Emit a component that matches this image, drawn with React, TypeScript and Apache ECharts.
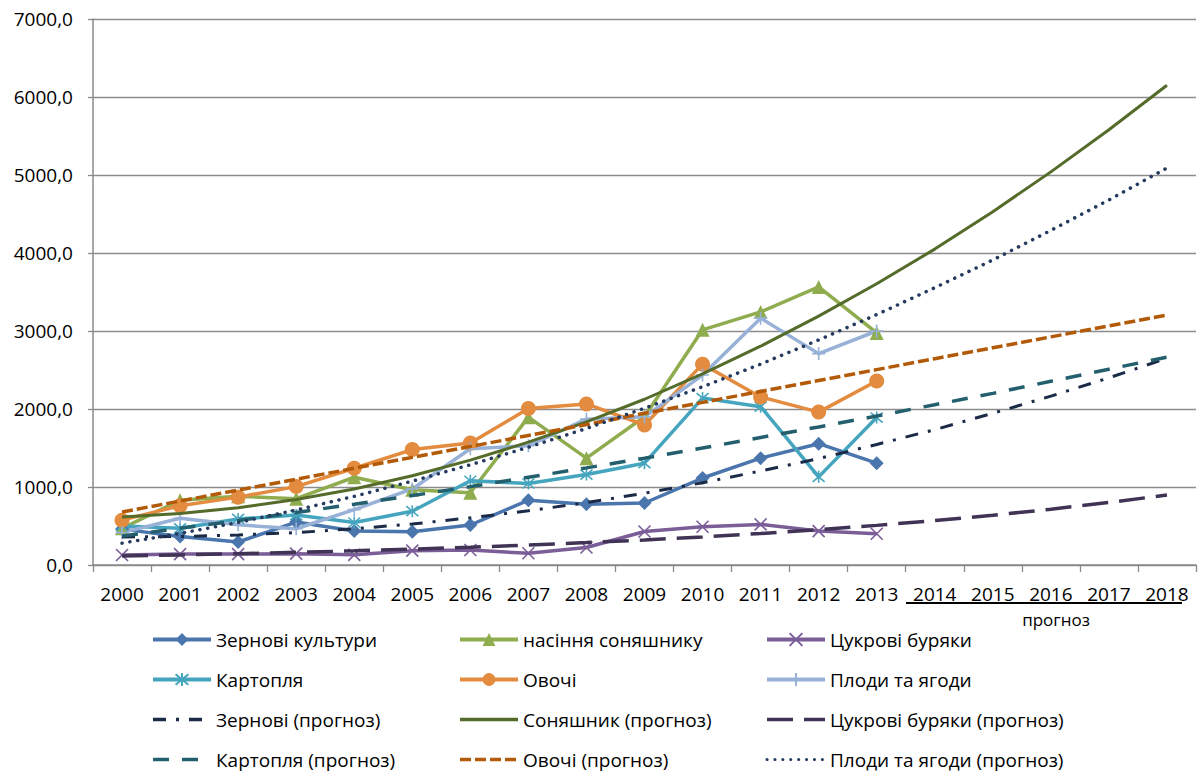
import React, { useEffect, useRef } from "react";
import * as echarts from "echarts";

const FONT = "'Open Sans', 'Noto Sans', sans-serif";

const years = ["2000","2001","2002","2003","2004","2005","2006","2007","2008","2009","2010","2011","2012","2013","2014","2015","2016","2017","2018"];
const yTicks = [0, 1000, 2000, 3000, 4000, 5000, 6000, 7000];

const zernovi = [460, 365, 295, 550, 435, 425, 513, 830, 780, 795, 1115, 1370, 1555, 1305];
const sonyashnyk = [470, 830, 880, 850, 1125, 965, 927, 1895, 1370, 1900, 3015, 3245, 3565, 2975];
const tsukrovi = [128, 140, 140, 145, 130, 184, 192, 150, 225, 430, 490, 520, 435, 400];
const kartoplia = [500, 470, 590, 640, 545, 690, 1080, 1045, 1160, 1305, 2140, 2030, 1130, 1890];
const ovochi = [575, 760, 870, 1005, 1240, 1480, 1565, 2005, 2065, 1795, 2575, 2155, 1960, 2360];
const plody = [415, 600, 515, 465, 710, 975, 1490, 1530, 1870, 1900, 2435, 3165, 2710, 3000];

const zernoviF = [360, 365, 385, 415, 465, 525, 605, 695, 800, 920, 1055, 1205, 1365, 1545, 1735, 1945, 2165, 2400, 2650];
const sonyashnykF = [615, 660, 735, 840, 975, 1145, 1345, 1575, 1835, 2125, 2450, 2805, 3190, 3605, 4050, 4530, 5040, 5580, 6150];
const tsukroviF = [115, 129, 144, 162, 182, 203, 228, 256, 287, 321, 360, 404, 453, 508, 569, 638, 715, 801, 897];
const kartopliaF = [372, 470, 570, 673, 780, 890, 1005, 1125, 1245, 1370, 1500, 1635, 1770, 1910, 2055, 2200, 2355, 2510, 2665];
const ovochiF = [680, 820, 960, 1100, 1240, 1380, 1520, 1660, 1800, 1945, 2085, 2225, 2365, 2505, 2645, 2785, 2925, 3065, 3205];
const plodyF = [280, 405, 545, 705, 880, 1075, 1285, 1510, 1750, 2010, 2285, 2575, 2885, 3210, 3555, 3910, 4290, 4680, 5090];

const legendCols = [
  ["Зернові культури", "Картопля", "Зернові (прогноз)", "Картопля (прогноз)"],
  ["насіння соняшнику", "Овочі", "Соняшник (прогноз)", "Овочі (прогноз)"],
  ["Цукрові буряки", "Плоди та ягоди", "Цукрові буряки (прогноз)", "Плоди та ягоди (прогноз)"],
];

const X_PATH = "path://M0,0L10,10M10,0L0,10";
const STAR_PATH = "path://M0,0L10,10M10,0L0,10M5,-1L5,11";
const PLUS_PATH = "path://M5,0L5,10M0,5L10,5";

function actual(name: string, data: number[], color: string, symbol: string, size: number, stroke = false) {
  return {
    name,
    type: "line",
    data,
    symbol,
    symbolSize: size,
    showSymbol: true,
    lineStyle: { color, width: 3.5 },
    itemStyle: stroke
      ? { color: "rgba(0,0,0,0)", borderColor: color, borderWidth: 1.6 }
      : { color },
    z: 2,
  };
}

function forecast(name: string, data: number[], color: string, type: any, width: number, cap = "butt") {
  return {
    name,
    type: "line",
    data,
    symbol: "none",
    showSymbol: false,
    lineStyle: { color, width, type, cap },
    itemStyle: { color },
    z: 3,
  };
}

export default function App() {
  const ref = useRef<HTMLDivElement>(null);
  useEffect(() => {
    if (!ref.current) return;
    const chart = echarts.init(ref.current, undefined, { renderer: "svg" });
    const isForecast = (n: string) => n.indexOf("прогноз") >= 0;
    const option: any = {
      animation: false,
      backgroundColor: "#fff",
      grid: { left: 93, right: 6, top: 19, bottom: 209, containLabel: false },
      xAxis: {
        type: "category",
        data: years,
        boundaryGap: true,
        axisLine: { show: true, lineStyle: { color: "#8a8a8a", width: 1.5 } },
        axisTick: { show: true, length: 7, lineStyle: { color: "#8a8a8a", width: 1.3 } },
        axisLabel: { interval: 0, margin: 19, fontSize: 19, color: "#000", fontFamily: FONT },
        splitLine: { show: false },
      },
      yAxis: {
        type: "value",
        min: yTicks[0],
        max: yTicks[yTicks.length - 1],
        interval: 1000,
        axisLine: { show: true, lineStyle: { color: "#8a8a8a", width: 1.5 } },
        axisTick: { show: true, length: 5, lineStyle: { color: "#8a8a8a", width: 1.3 } },
        axisLabel: {
          margin: 20,
          fontSize: 19,
          color: "#000",
          fontFamily: FONT,
          formatter: (v: number) => v.toFixed(1).replace(".", ","),
        },
        splitLine: { show: true, lineStyle: { color: "#8c8c8c", width: 1.3 } },
      },
      legend: legendCols.map((names, i) => ({
        orient: "vertical",
        left: [151, 458, 765][i],
        top: 630,
        padding: 0,
        itemWidth: 58,
        itemHeight: 16,
        itemGap: 21,
        selectedMode: false,
        textStyle: { fontSize: 19, fontFamily: FONT, color: "#000" },
        data: names.map((n) =>
          isForecast(n)
            ? { name: n, itemStyle: { opacity: 0 }, lineStyle: { width: n.indexOf("Плоди") >= 0 ? 3 : 3.5 } }
            : { name: n, lineStyle: { width: 4 } }
        ),
      })),
      graphic: [
        { type: "line", shape: { x1: 906, y1: 603, x2: 1182, y2: 603 }, style: { stroke: "#000", lineWidth: 2 } },
        {
          type: "text",
          x: 1056,
          y: 619,
          style: { text: "прогноз", fontSize: 17, fontFamily: FONT, fill: "#000", align: "center", verticalAlign: "middle" },
        },
      ],
      series: [
        actual("Зернові культури", zernovi, "#4A76AD", "diamond", 14),
        actual("насіння соняшнику", sonyashnyk, "#8FAC4E", "triangle", 14),
        actual("Цукрові буряки", tsukrovi, "#7B5E98", X_PATH, 12, true),
        actual("Картопля", kartoplia, "#45A5BE", STAR_PATH, 12, true),
        actual("Овочі", ovochi, "#E38B3F", "circle", 15),
        actual("Плоди та ягоди", plody, "#97B1D7", PLUS_PATH, 13, true),
        forecast("Зернові (прогноз)", zernoviF, "#1B2A47", [13, 10, 3, 10], 3),
        forecast("Соняшник (прогноз)", sonyashnykF, "#556B2A", "solid", 3),
        forecast("Цукрові буряки (прогноз)", tsukroviF, "#413355", [26, 11], 3.5),
        forecast("Картопля (прогноз)", kartopliaF, "#235F6D", [16, 13], 3.5),
        forecast("Овочі (прогноз)", ovochiF, "#B35A08", [11, 4], 3.5),
        forecast("Плоди та ягоди (прогноз)", plodyF, "#243A5E", [0.1, 7.8], 3.5, "round"),
      ],
    };
    chart.setOption(option);
    return () => chart.dispose();
  }, []);
  return (
    <div
      ref={ref}
      style={{ position: "absolute", left: 0, top: 0, width: 1202, height: 774, background: "#fff" }}
    />
  );
}
